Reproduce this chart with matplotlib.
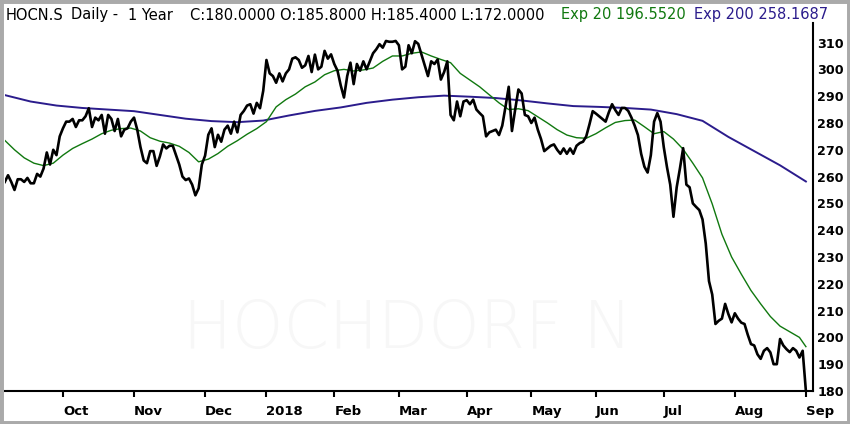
import numpy as np
import pandas as pd
import matplotlib
matplotlib.use("Agg")
import matplotlib.pyplot as plt
from matplotlib.patches import Rectangle

# SIX closing days in the period
holidays = ["2017-12-25", "2017-12-26", "2018-01-01", "2018-01-02", "2018-03-30",
            "2018-04-02", "2018-05-01", "2018-05-10", "2018-05-21", "2018-08-01"]
dates = pd.bdate_range("2017-09-06", "2018-09-03", freq="C", holidays=holidays)

close = [258, 260.5, 258, 255, 259, 259, 258, 259.5, 257.5, 257.5, 261, 260, 263, 269, 264.5, 270, 268, 275,
         278, 280.5, 280.5, 281.5, 278.5, 281, 281, 282.5, 285.5, 278.5, 282, 281, 283, 276, 283, 281.5,
         277, 281.5, 275, 277.5, 278, 280.5, 282, 277.5,
         271, 266, 265, 269.5, 269.5, 264, 267.5, 272, 270.5, 271.5, 271.5, 268, 264.5, 260, 258.7, 259.3,
         257, 253, 255.6, 264.5, 267.8,
         275.6, 278, 271, 275.6, 273, 277.5, 279, 276, 280.5, 276.5, 283, 284.5, 286.5, 287, 283.5, 287.5,
         285.5, 292, 303.5,
         298.5, 297.5, 295, 298.5, 295.5, 298.5, 300, 304, 304.5, 303.5, 300.6, 301.5, 305, 299, 305.5, 300,
         301, 306.9, 304, 305.6, 302, 299.5, 294, 289.5, 297.5, 302.5, 294.5, 302, 299.5, 303, 300, 303,
         306, 307.5, 309.4, 308.1, 310.6, 310.3, 310.3, 310.6,
         309, 300, 301, 309, 306, 310.5, 309.5, 305.5, 301.5, 297.5, 303, 302, 303.7, 296.2, 299, 303, 283,
         281, 288, 282.5, 288, 288.5, 287, 288.7, 285, 283.7, 282.5, 275, 276.5, 277, 277.5, 275.5, 279,
         286, 293.5, 277, 285, 292.5, 291, 283, 282.5, 280, 282, 277.5, 274, 269.5,
         270.5, 271.5, 272, 270, 268.5, 270.5, 268.5, 270.5, 268.5, 271.5, 272.5, 273, 275, 279.5, 284.4,
         283.5, 282.5, 281.5, 280.5, 284, 287, 284.8, 283, 285.6, 285.6, 284.5, 282, 279, 275.5, 268.5,
         263.7, 261.5, 268, 280.5, 283.7, 280.5, 271, 263.5, 257, 245, 256, 263, 270.6, 257, 256, 250,
         248.7, 247.5, 244, 235, 221, 216, 205, 206.2, 207, 212.5, 208.7, 205.6, 209, 207, 205.5, 205, 201,
         197.5, 197, 193.7, 192, 195, 196, 194.4, 190, 190, 199.4, 197, 195.6, 194.5, 196, 195, 192.5, 195,
         180]

# exp 20 read every 3rd session (plus the last one), exp 200 every 8th
ema20 = [273.5, 270, 267, 265, 264.1, 265, 268, 270.5, 272.3, 274, 276, 277.3, 277.9, 278.1, 277, 274.5,
         273.2, 272.5, 271.3, 269, 265.5, 266.5, 268.6, 271.3, 273.4, 275.8, 277.9, 280.5, 286, 288.7,
         290.8, 293.5, 295.3, 298, 299.5, 300, 299.4, 299.8, 300.5, 303, 305, 305, 306, 306.5, 305, 303.7,
         302.5, 298.5, 296, 293.5, 290.5, 287.5, 285, 285.3, 284.6, 282.3, 280, 277.5, 275.5, 274.5,
         274.3, 276, 278.2, 280.2, 280.9, 281.1, 278.6, 276, 276.8, 274, 270.2, 265, 259.5, 249.8, 238.5,
         230, 223.6, 217.5, 212.5, 207.8, 204.2, 202.1, 200, 196.55]
ema200 = [290.4, 288, 286.5, 285.6, 285, 284.4, 283, 281.6, 280.7, 280.3, 280.9, 282.8, 284.5, 285.8,
          287.5, 288.7, 289.6, 290.2, 289.8, 289.3, 288.4, 287.3, 286.3, 286, 285.6, 285, 283.3, 280.8,
          274.8, 269.5, 264.2, 258.17]

n = len(close)
x = np.arange(n)
x20 = list(range(0, n, 3)) + [n - 1]
x200 = list(range(0, n, 8))

months = pd.Series(dates[:n].to_period("M"))
first = months.ne(months.shift()).to_numpy()
first[0] = False
tick_pos = np.flatnonzero(first)
tick_lab = ["2018" if dates[i].month == 1 else dates[i].strftime("%b") for i in tick_pos]

green = "#10780f"
purple = "#2b1c8c"

fig = plt.figure(figsize=(8.5, 4.24), dpi=100)
ax = fig.add_axes([5 / 850, 33 / 424, 808 / 850, 368 / 424])

ax.text(408 / 850, 1 - 330 / 424, "HOCHDORF N", transform=fig.transFigure, ha="center", va="center",
        fontsize=47, color="#f7f7f7", fontweight="light", zorder=0)

ax.plot(x200, ema200, color=purple, lw=1.4, zorder=2)
ax.plot(x20, ema20, color=green, lw=1.0, zorder=3)
ax.plot(x, close, color="black", lw=1.9, zorder=4)

ax.set_xlim(0.06, 250.2)
ax.set_ylim(180, 317.3)

for s in ["left", "top"]:
    ax.spines[s].set_visible(False)
for s in ["bottom", "right"]:
    ax.spines[s].set_linewidth(1.5)

ax.yaxis.tick_right()
ax.set_yticks(np.arange(180, 311, 10), labels=[str(v) for v in range(180, 311, 10)],
              fontweight="bold", fontsize=9.2)
ax.tick_params(axis="y", length=0, pad=3)
ax.set_xticks(tick_pos, labels=tick_lab, fontweight="bold", fontsize=9.5, ha="left")
ax.tick_params(axis="x", length=4.3, width=1.5, direction="out", pad=5.5)

ty = 1 - 19.5 / 424
fs = 10.5
fig.text(6 / 850, ty, "HOCN.S", fontsize=fs, va="baseline")
fig.text(71 / 850, ty, "Daily -", fontsize=fs, va="baseline")
fig.text(128 / 850, ty, "1 Year", fontsize=fs, va="baseline")
fig.text(190 / 850, ty, "C:180.0000 O:185.8000 H:185.4000 L:172.0000", fontsize=fs, va="baseline")
fig.text(561 / 850, ty, "Exp 20 196.5520", fontsize=fs, va="baseline", color=green)
fig.text(694 / 850, ty, "Exp 200 258.1687", fontsize=fs, va="baseline", color=purple)

fig.add_artist(Rectangle((0, 0), 1, 1, transform=fig.transFigure, fill=False,
                         edgecolor="#aaaaaa", linewidth=5))

fig.savefig("out.png", dpi=100)
